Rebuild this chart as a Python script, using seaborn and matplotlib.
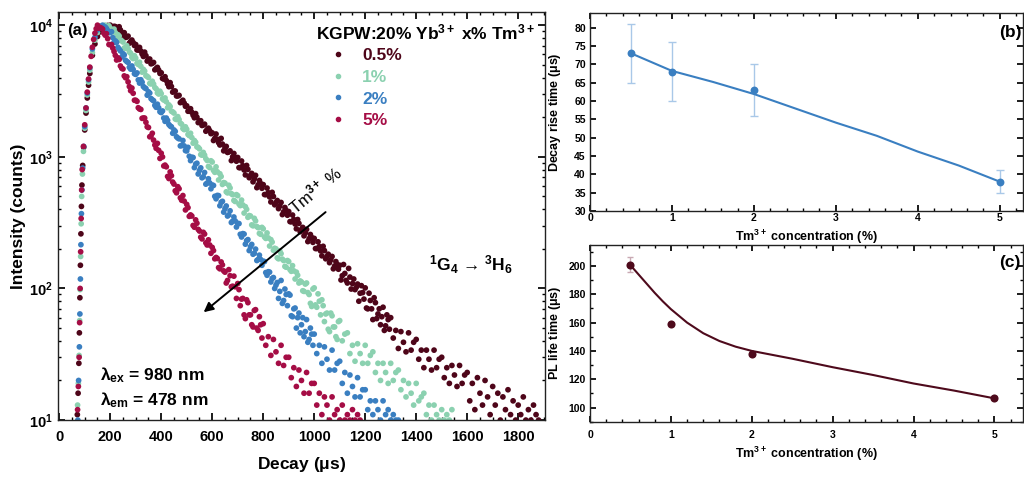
import numpy as np
import pandas as pd
import seaborn as sns
import matplotlib.pyplot as plt
from matplotlib.lines import Line2D
from matplotlib.ticker import MultipleLocator, LogLocator, NullFormatter, FixedLocator, FixedFormatter

# ---------------------------------------------------------
# datos (a): curvas de decaimiento, cuentas
# ---------------------------------------------------------
series = ['0.5%', '1%', '2%', '5%']
colores = ['#4e0519', '#8bd1b0', '#3a7fc1', '#a50d45']
DT = 10  # paso temporal de las listas de decaimiento (us)

# subida (tiempo, cuentas)
sub_05_t = [71, 74, 77, 79, 81, 83, 85, 87, 89, 92, 96, 100, 105, 110, 115, 120, 130, 140, 150, 160, 170, 180, 190]
sub_05_c = [11, 16, 27, 46, 85, 150, 260, 420, 610, 860, 1180, 1600, 2150, 2800, 3500, 4300, 5900, 7200, 8200,
            8900, 9400, 9750, 9950]
sub_1_t = [72, 75, 78, 80, 82, 84, 86, 88, 91, 95, 100, 105, 110, 115, 120, 130, 140, 150, 160, 170]
sub_1_c = [13, 19, 31, 57, 98, 175, 310, 500, 740, 1100, 1650, 2250, 2950, 3700, 4550, 6200, 7700, 8800, 9500, 9900]
sub_2_t = [73, 76, 79, 81, 83, 85, 87, 89, 92, 96, 100, 105, 110, 115, 120, 130, 140, 150, 160]
sub_2_c = [10, 20, 36, 64, 118, 215, 370, 560, 820, 1200, 1700, 2350, 3050, 3850, 4750, 6600, 8100, 9200, 9800]
sub_5_t = [72, 75, 78, 80, 82, 84, 86, 88, 90, 95, 100, 105, 110, 115, 120, 125, 130, 135, 140, 145]
sub_5_c = [12, 18, 30, 55, 100, 190, 340, 560, 800, 1200, 1750, 2350, 3100, 3900, 4800, 5800, 6800, 7800, 8700, 9400]

# decaimiento, primera pasada (cuentas cada DT us desde t0)
dec_05_t0 = 200
dec_05 = [10000, 9690, 9760, 8960, 9200, 8710, 8070, 8260, 7510, 7380,
          7130, 6480, 6370, 5790, 5870, 5500, 5090, 5210, 4680, 4560,
          4350, 3900, 3800, 3410, 3420, 3160, 2900, 2930, 2630, 2560,
          2440, 2220, 2180, 1980, 2000, 1870, 1730, 1770, 1610, 1580,
          1520, 1380, 1360, 1230, 1250, 1170, 1080, 1110, 1000, 986,
          988, 827, 856, 729, 802, 722, 646, 723, 613, 627,
          615, 516, 534, 454, 500, 449, 404, 450, 382, 391,
          384, 321, 334, 284, 312, 281, 251, 281, 239, 244,
          240, 201, 208, 177, 194, 175, 157, 175, 148, 152,
          150, 125, 130, 110, 122, 109, 98, 108, 92, 93,
          101, 70, 81, 58, 78, 64, 53, 72, 52, 58,
          60, 42, 48, 35, 47, 39, 33, 46, 34, 39,
          41, 29, 34, 25, 34, 29, 24, 34, 25, 29,
          30, 21, 25, 19, 26, 22, 18, 26, 19, 22,
          23, 14, 19, 12, 21, 16, 13, 20, 15, 11,
          18, 13, 16, 10, 15, 12, 17, 11, 14, 10,
          13, 11, 15, 10, 12, 10, 13, 11, 10]
dec_1_t0 = 180
dec_1 = [10000, 9650, 9500, 8930, 8780, 8470, 7700, 7450, 6660, 6650,
         6120, 5580, 5620, 5030, 4870, 4620, 4130, 4000, 3580, 3570,
         3290, 3000, 3020, 2700, 2620, 2480, 2220, 2150, 1920, 1920,
         1770, 1610, 1620, 1450, 1400, 1330, 1190, 1150, 1030, 1030,
         939, 829, 913, 763, 770, 744, 617, 631, 532, 580,
         516, 458, 507, 426, 431, 418, 347, 355, 299, 326,
         290, 258, 284, 240, 242, 235, 195, 200, 168, 184,
         163, 145, 160, 135, 136, 133, 110, 112, 95, 110,
         90, 73, 101, 72, 80, 82, 56, 65, 47, 62,
         51, 41, 57, 40, 45, 46, 32, 37, 28, 38,
         32, 27, 37, 27, 31, 33, 23, 27, 20, 27,
         23, 19, 27, 20, 23, 24, 17, 20, 15, 19,
         16, 13, 19, 14, 15, 16, 11, 13, 10, 13,
         11, 10, 12, 10, 11, 10, 12]
dec_2_t0 = 170
dec_2 = [10000, 9700, 9100, 8800, 8050, 7600, 6800, 6380, 6080, 5410,
         5220, 4640, 4610, 4230, 3840, 3850, 3420, 3300, 3120, 2770,
         2670, 2380, 2360, 2170, 1970, 1970, 1760, 1690, 1600, 1420,
         1370, 1220, 1210, 1110, 1010, 992, 828, 894, 788, 693,
         760, 632, 634, 610, 501, 509, 425, 459, 404, 355,
         389, 324, 326, 312, 258, 261, 217, 235, 207, 182,
         199, 166, 166, 161, 132, 134, 112, 121, 106, 84,
         115, 81, 90, 91, 62, 70, 50, 65, 53, 43,
         58, 41, 45, 45, 32, 37, 27, 36, 29, 24,
         34, 24, 27, 28, 19, 23, 16, 22, 18, 15,
         21, 15, 17, 17, 12, 14, 11, 14, 12, 10,
         14, 11, 12, 10, 11, 10, 10]
dec_5_t0 = 150
dec_5 = [10000, 9600, 9350, 8400, 7900, 7100, 6700, 5900, 5650, 4900,
         4650, 3990, 3710, 3180, 3040, 2690, 2360, 2290, 1970, 1830,
         1670, 1440, 1340, 1160, 1120, 1065, 852, 840, 684, 719,
         621, 533, 572, 468, 461, 435, 353, 355, 292, 313,
         273, 238, 259, 214, 214, 205, 168, 169, 141, 151,
         133, 115, 125, 104, 103, 109, 74, 84, 59, 78,
         63, 51, 69, 48, 53, 54, 37, 43, 31, 41,
         33, 27, 37, 26, 30, 30, 21, 25, 18, 24,
         20, 16, 23, 16, 19, 19, 13, 16, 11, 15,
         13, 10, 15, 11, 12, 10, 13, 10, 11, 10,
         12, 10, 11, 10]

# decaimiento, segunda pasada (medio paso desplazada, zona densa de cada curva)
dec2_05_t0 = 205
dec2_05 = [9550, 9800, 9310, 9730, 8420, 8770, 8130, 7300, 7710, 7010,
           6490, 6780, 6050, 6240, 5340, 5530, 5130, 4580, 4780, 4300,
           3940, 4060, 3580, 3660, 3100, 3160, 2900, 2580, 2690, 2420,
           2220, 2320, 2070, 2130, 1820, 1880, 1745, 1565, 1650, 1500,
           1330, 1490, 1280, 1380, 1110, 1200, 1090, 936, 1060, 926,
           828, 929, 795, 860, 694, 748, 679, 583, 661, 577,
           517, 579, 496, 537, 432, 466, 423, 364, 412, 360,
           322, 361, 309, 334, 270, 291, 264, 227, 257, 224,
           201, 226, 193, 209, 168, 182, 165, 141, 160, 140,
           116, 152, 115, 142, 99, 118, 102, 80, 105, 83,
           71, 92, 70, 85, 59, 70, 61, 48, 63, 49]
dec2_1_t0 = 185
dec2_1 = [9470, 9900, 9050, 9340, 7990, 8270, 7610, 6720, 6990, 6260,
          5700, 5860, 5140, 5230, 4400, 4480, 4090, 3610, 3750, 3360,
          3060, 3150, 2760, 2800, 2360, 2410, 2195, 1940, 2020, 1800,
          1640, 1690, 1480, 1510, 1270, 1290, 1180, 1040, 1080, 968,
          845, 933, 788, 839, 667, 709, 637, 542, 608, 525,
          466, 516, 438, 469, 374, 399, 358, 304, 341, 295,
          262, 291, 246, 264, 210, 225, 202, 171, 193, 167,
          147, 163, 139, 149, 118, 126, 114, 96, 108, 93,
          77, 99, 75, 91, 63, 74, 64, 49, 65, 51, 43, 56]
dec2_2_t0 = 175
dec2_2 = [9430, 9450, 8790, 8920, 7420, 7410, 6590, 5730, 5940, 5290,
          4790, 4900, 4280, 4340, 3630, 3690, 3345, 2940, 3050, 2710,
          2460, 2510, 2200, 2230, 1860, 1890, 1715, 1510, 1560, 1390,
          1210, 1330, 1115, 1180, 936, 988, 880, 741, 824, 706,
          620, 681, 572, 606, 480, 507, 451, 380, 423, 362,
          317, 349, 293, 311, 246, 259, 231, 194, 216, 185,
          163, 179, 150, 160, 126, 133, 119, 100, 111, 95,
          77, 99, 74, 89, 61, 71, 60, 46, 60, 47, 39, 50, 37]
dec2_5_t0 = 155
dec2_5 = [9500, 9500, 8690, 8620, 7130, 7130, 6310, 5440, 5490, 4710,
          4120, 4060, 3420, 3330, 2690, 2640, 2310, 1960, 1970, 1690,
          1420, 1510, 1230, 1265, 972, 998, 865, 709, 768, 643,
          552, 593, 488, 508, 395, 411, 362, 301, 332, 281,
          245, 267, 222, 234, 185, 194, 172, 144, 159, 136,
          110, 139, 103, 124, 84, 98, 83, 63, 82, 63,
          53, 68, 50, 61, 42]

# ---------------------------------------------------------
# datos (b) y (c)
# ---------------------------------------------------------
conc = [0.5, 1, 2, 5]
rise = [73, 68, 63, 38]
rise_err = [8, 8, 7, 3.1]
fit_b_x = [0.5, 1.0, 1.5, 2.0, 2.5, 3.0, 3.5, 4.0, 4.5, 5.0]
fit_b_y = [73.0, 68.2, 65.2, 61.9, 58.0, 54.1, 50.5, 46.2, 42.4, 38.0]

life = [201, 159, 138, 107]
life_err = [5, 1, 1, 1]
fit_c_x = [0.5, 0.6, 0.7, 0.8, 0.9, 1.0, 1.2, 1.4, 1.6, 1.8, 2.0, 2.5, 3.0, 3.5, 4.0, 4.5, 5.0]
fit_c_y = [200.5, 194, 187.5, 181, 175, 169.5, 160, 152.5, 147, 143, 140, 134.5, 128.5, 123, 117, 112, 106.5]


def armar_tabla():
    bloques = [(sub_05_t, sub_05_c, [(dec_05_t0, dec_05), (dec2_05_t0, dec2_05)]),
               (sub_1_t, sub_1_c, [(dec_1_t0, dec_1), (dec2_1_t0, dec2_1)]),
               (sub_2_t, sub_2_c, [(dec_2_t0, dec_2), (dec2_2_t0, dec2_2)]),
               (sub_5_t, sub_5_c, [(dec_5_t0, dec_5), (dec2_5_t0, dec2_5)])]
    frames = []
    for nombre, (st, sc, pasadas) in zip(series, bloques):
        t = list(st)
        c = list(sc)
        for t0, dc in pasadas:
            t += list(t0 + DT * np.arange(len(dc)))
            c += list(dc)
        frames.append(pd.DataFrame({'t': t, 'cuentas': c, 'conc': nombre}))
    return pd.concat(frames, ignore_index=True)


df = armar_tabla()

sns.set_theme(style='ticks')
plt.rcParams['font.family'] = ['Liberation Sans', 'DejaVu Sans']
plt.rcParams['font.weight'] = 'bold'
plt.rcParams['mathtext.fontset'] = 'custom'
plt.rcParams['mathtext.rm'] = 'Liberation Sans'
plt.rcParams['mathtext.bf'] = 'Liberation Sans:bold'
plt.rcParams['mathtext.it'] = 'Liberation Sans:italic'
for clave in ['text.color', 'axes.labelcolor', 'xtick.color', 'ytick.color']:
    plt.rcParams[clave] = 'black'
plt.rcParams['axes.edgecolor'] = '#222222'
plt.rcParams['axes.linewidth'] = 1.0

fig = plt.figure(figsize=(10.24, 4.79), dpi=100)

# ---------------------------------------------------------
# (a) decaimiento
# ---------------------------------------------------------
ax = fig.add_axes([0.0566, 0.123, 0.4756, 0.852])
sns.scatterplot(data=df, x='t', y='cuentas', hue='conc', hue_order=series, palette=colores,
                s=17, linewidth=0, legend=False, ax=ax)
ax.set_yscale('log')
ax.set_xlim(-5, 1905)
ax.set_ylim(10, 12600)
ax.xaxis.set_major_locator(MultipleLocator(200))
ax.xaxis.set_minor_locator(MultipleLocator(50))
ax.yaxis.set_major_locator(FixedLocator([10, 100, 1000, 10000]))
ax.yaxis.set_major_formatter(FixedFormatter([r'$\mathbf{10^{1}}$', r'$\mathbf{10^{2}}$',
                                             r'$\mathbf{10^{3}}$', r'$\mathbf{10^{4}}$']))
ax.yaxis.set_minor_locator(LogLocator(base=10, subs=np.arange(2, 10)))
ax.yaxis.set_minor_formatter(NullFormatter())
ax.tick_params(which='both', direction='in', top=True, right=True, labelsize=10.5)
ax.tick_params(which='major', length=5)
ax.tick_params(which='minor', length=2.5)
ax.tick_params(axis='x', pad=7)
ax.set_xlabel('Decay ($\\mathbf{\\mu}$s)', fontsize=12.5, fontweight='bold')
ax.set_ylabel('Intensity (counts)', fontsize=12.5, fontweight='bold')
ax.xaxis.set_label_coords(0.5, -0.085)
ax.yaxis.set_label_coords(-0.066, 0.5)

handles = [Line2D([], [], ls='none', marker='o', ms=3, color=c) for c in colores]
leg = ax.legend(handles, series, loc='upper left', bbox_to_anchor=(0.557, 0.912), frameon=False,
                handlelength=1.0, handletextpad=0.9, labelspacing=0.38, borderpad=0, borderaxespad=0,
                labelcolor=colores, prop={'size': 12.5, 'weight': 'bold'})
ax.text(0.979, 0.949, r'KGPW:20% Yb$^{\mathbf{3+}}$ x% Tm$^{\mathbf{3+}}$', transform=ax.transAxes,
        ha='right', va='center', fontsize=12.5, fontweight='bold')
ax.text(0.018, 0.955, '(a)', transform=ax.transAxes, ha='left', va='center', fontsize=12, fontweight='bold')
ax.text(0.848, 0.38, r'$^{\mathbf{1}}$G$_{\mathbf{4}}$ → $^{\mathbf{3}}$H$_{\mathbf{6}}$',
        transform=ax.transAxes, ha='center', va='center', fontsize=12.5, fontweight='bold')
ax.text(0.086, 0.11, r'λ$_{\mathrm{ex}}$ = 980 nm', transform=ax.transAxes,
        ha='left', va='center', fontsize=12.5, fontweight='bold')
ax.text(0.086, 0.049, r'λ$_{\mathrm{em}}$ = 478 nm', transform=ax.transAxes,
        ha='left', va='center', fontsize=12.5, fontweight='bold')
ax.annotate('', xy=(558, 64), xytext=(1053, 392),
            arrowprops=dict(arrowstyle='-|>', color='black', lw=1.4, mutation_scale=14))
ax.text(1005, 560, r'Tm$^{3+}$ %', rotation=39.5, ha='center', va='center', fontsize=12,
        fontweight='normal', rotation_mode='anchor')

# ---------------------------------------------------------
# (b) tiempo de subida
# ---------------------------------------------------------
azul = '#3a7fc1'
axb = fig.add_axes([0.5762, 0.5595, 0.4233, 0.4134])
axb.errorbar(conc, rise, yerr=rise_err, fmt='none', ecolor='#a9c8e8', elinewidth=1, capsize=3, zorder=1)
sns.lineplot(x=fit_b_x, y=fit_b_y, color=azul, lw=1.5, ax=axb, zorder=2)
sns.scatterplot(x=conc, y=rise, color=azul, s=32, linewidth=0, ax=axb, zorder=3)
axb.set_xlim(0, 5.29)
axb.set_ylim(30, 84)
axb.xaxis.set_major_locator(MultipleLocator(1))
axb.xaxis.set_minor_locator(MultipleLocator(0.2))
axb.yaxis.set_major_locator(MultipleLocator(5))
axb.tick_params(which='both', direction='in', top=True, right=True, labelsize=7.5)
axb.tick_params(which='major', length=4)
axb.tick_params(which='minor', length=2)
axb.tick_params(axis='x', pad=1.5)
axb.tick_params(axis='y', pad=3)
axb.set_xlabel('Tm$^{\\mathbf{3+}}$ concentration (%)', fontsize=9, fontweight='bold')
axb.set_ylabel('Decay rise time ($\\mathbf{\\mu}$s)', fontsize=9, fontweight='bold')
axb.xaxis.set_label_coords(0.5, -0.085)
axb.yaxis.set_label_coords(-0.062, 0.5)
axb.text(0.943, 0.9, '(b)', transform=axb.transAxes, ha='left', va='center', fontsize=12.5,
         fontweight='bold')

# ---------------------------------------------------------
# (c) tiempo de vida
# ---------------------------------------------------------
granate = '#4e0a1c'
axc = fig.add_axes([0.5762, 0.1196, 0.4233, 0.3695])
axc.errorbar(conc, life, yerr=life_err, fmt='none', ecolor='#c9a9b3', elinewidth=1, capsize=2, zorder=1)
sns.lineplot(x=fit_c_x, y=fit_c_y, color=granate, lw=1.5, ax=axc, zorder=2)
sns.scatterplot(x=conc, y=life, color=granate, s=34, linewidth=0, ax=axc, zorder=3)
axc.set_xlim(0, 5.36)
axc.set_ylim(90, 215)
axc.xaxis.set_major_locator(MultipleLocator(1))
axc.xaxis.set_minor_locator(MultipleLocator(0.2))
axc.yaxis.set_major_locator(MultipleLocator(20))
axc.yaxis.set_minor_locator(MultipleLocator(10))
axc.tick_params(which='both', direction='in', top=True, right=True, labelsize=7.5)
axc.tick_params(which='major', length=4)
axc.tick_params(which='minor', length=2)
axc.tick_params(axis='x', pad=6)
axc.tick_params(axis='y', pad=3)
axc.set_xlabel('Tm$^{\\mathbf{3+}}$ concentration (%)', fontsize=9, fontweight='bold')
axc.set_ylabel('PL life time ($\\mathbf{\\mu}$s)', fontsize=9, fontweight='bold')
axc.xaxis.set_label_coords(0.5, -0.13)
axc.yaxis.set_label_coords(-0.062, 0.5)
axc.text(0.943, 0.9, '(c)', transform=axc.transAxes, ha='left', va='center', fontsize=12.5, fontweight='bold')

fig.savefig('out.png', dpi=100)
